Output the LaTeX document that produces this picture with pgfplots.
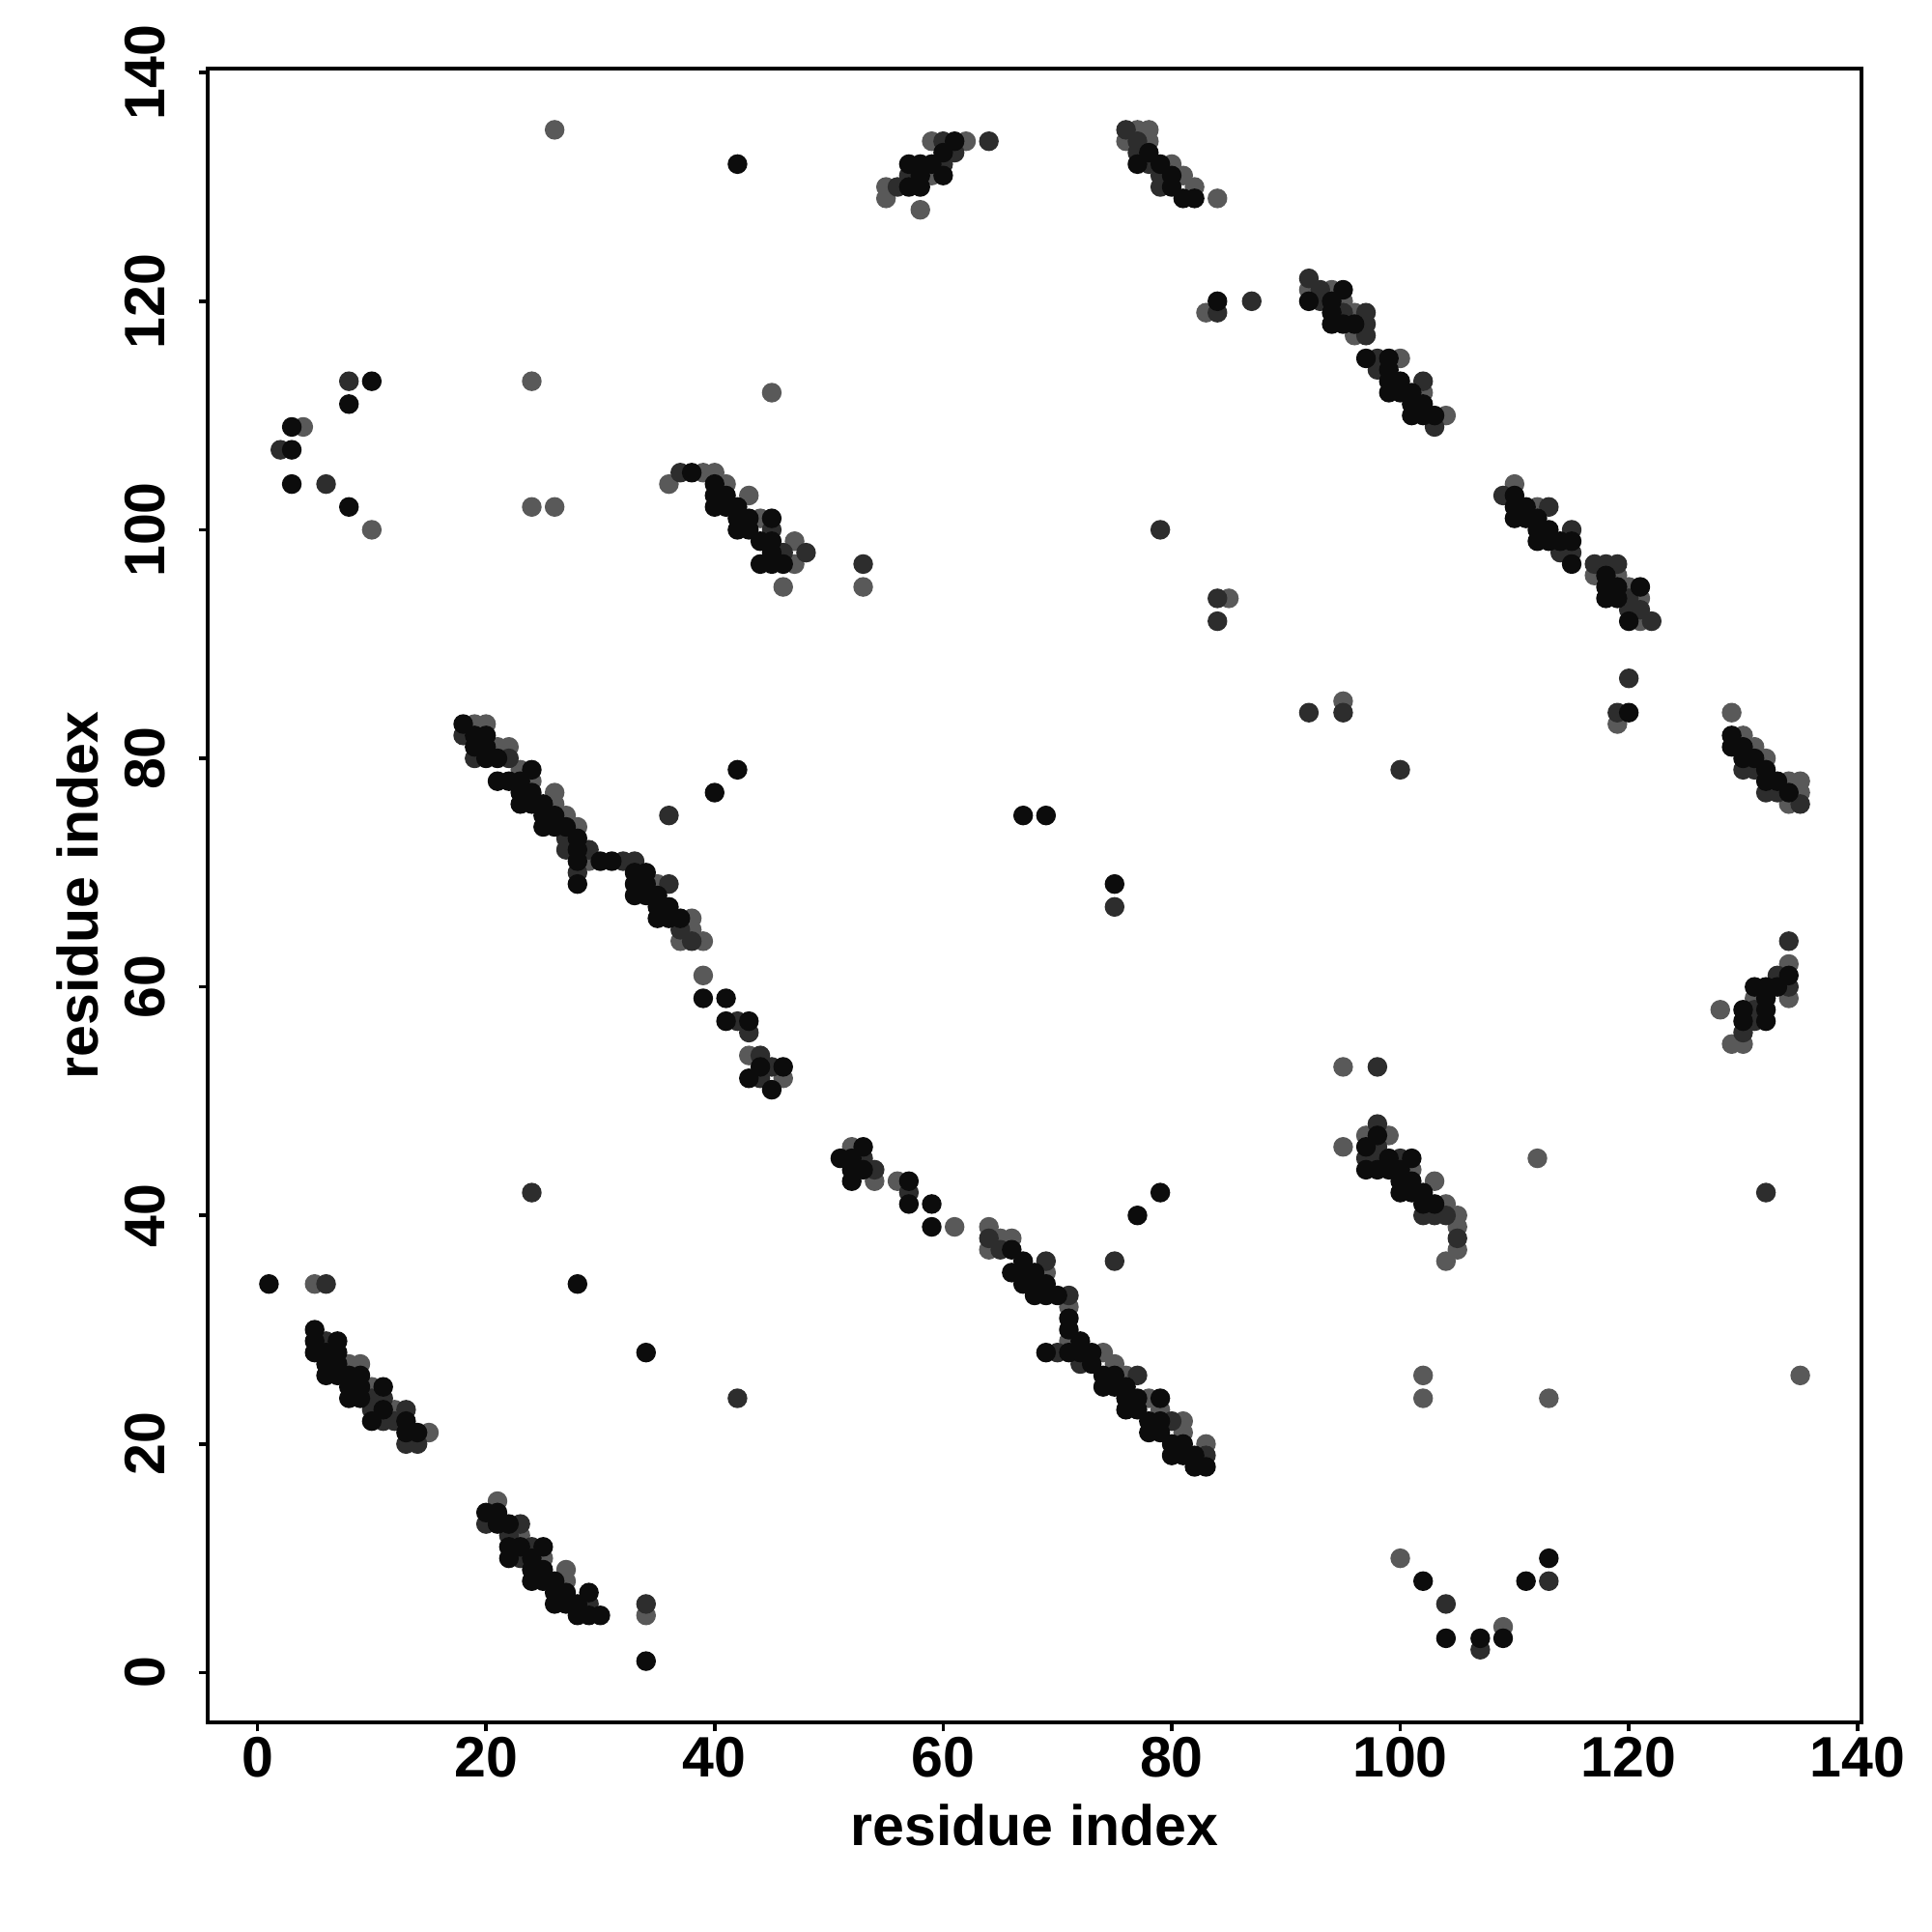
\documentclass[border=0pt]{standalone}
\usepackage{fontspec}
\setmainfont{Liberation Sans}
\usepackage{pgfplots}
\pgfplotsset{compat=1.18}
\definecolor{ck}{HTML}{0C0C0C}
\definecolor{cd}{HTML}{2D2D2D}
\definecolor{cg}{HTML}{595959}
\begin{document}
\begin{tikzpicture}
\path (0,0) rectangle (20cm,20cm);
\begin{axis}[
  at={(2.15cm,2.17cm)}, anchor=south west,
  scale only axis, width=17.12cm, height=17.12cm,
  xmin=-4.36, xmax=140.36, ymin=-4.36, ymax=140.36,
  xtick={0,20,...,140}, ytick={0,20,...,140},
  tick align=outside, tick pos=left, major tick length=0.095cm,
  axis line style={line width=1pt},
  every tick/.style={line width=1pt, black},
  /pgf/number format/assume math mode=true,
  tick label style={font=\fontsize{16.8}{20}\selectfont\bfseries},
  label style={font=\fontsize{16.8}{20}\selectfont\bfseries},
  xticklabel style={anchor=north, inner sep=0pt, yshift=-0.05cm},
  yticklabel style={xshift=-0.35cm, rotate=90, anchor=base, inner sep=0pt},
  xlabel={residue index}, ylabel={residue index},
  xlabel style={at={(axis description cs:0.5,0)}, anchor=base, inner sep=0pt, yshift=-1.27cm},
  ylabel style={at={(axis description cs:0,0.5)}, anchor=base, inner sep=0pt, yshift=1.14cm},
  clip=false,
]
% gray
\addplot[only marks, mark=*, mark size=2.7pt, color=cg, mark options={draw=none}] coordinates {
(4,109)(10,100)(5,34)(8,27)(9,27)(10,25)(12,23)(15,21)
(21,15)(23,12)(25,10)(27,9)(27,8)(34,5)
(19,83)(20,83)(21,81)(22,81)(23,79)(24,78)(26,77)(26,76)(27,75)(28,74)(29,71)(35,69)(38,66)(38,65)(37,64)(39,64)(39,61)(43,54)(46,52)
(52,46)(54,43)(56,43)(61,39)(64,39)(65,38)(66,38)(64,37)(69,35)(71,32)(71,29)(74,28)(75,27)(76,26)(78,24)(79,23)(81,22)(81,21)(83,20)
(59,134)(62,134)(59,131)(55,130)(55,129)(58,128)(45,112)(26,135)
(77,135)(78,135)(76,134)(78,134)(80,132)(81,131)(82,130)(84,129)(83,119)
(92,121)(94,121)(95,120)(96,119)(96,117)(100,115)(102,112)(104,110)
(110,104)(112,102)(117,96)(119,96)(120,95)(121,94)(121,92)
(119,83)(129,84)(130,82)(131,81)(132,80)(134,78)(135,78)(135,77)(134,76)
(134,62)(131,59)(134,59)(128,58)(129,55)(130,55)
(95,46)(97,47)(99,47)(101,44)(103,43)(104,41)(105,40)(105,39)(105,37)(104,36)(112,45)(102,26)
(100,10)(109,4)
(36,104)(39,105)(40,105)(41,104)(43,103)(44,101)(47,99)(47,97)(46,95)
(24,113)(24,102)(26,102)(53,95)(85,94)(95,85)(95,53)(102,24)(113,24)(135,26)
};
% dark
\addplot[only marks, mark=*, mark size=2.7pt, color=cd, mark options={draw=none}] coordinates {
(8,113)(2,107)(6,104)(6,34)
(6,29)(10,24)(11,24)(10,23)(13,23)(11,22)(12,22)(13,20)(14,20)
(20,13)(23,13)(22,12)(24,11)(23,10)(29,6)(34,6)
(18,82)(19,80)(22,80)(27,73)(27,72)(29,72)(32,71)(33,71)(28,70)(36,69)(37,65)(38,64)(42,57)(43,56)(44,54)(45,53)(44,52)(36,75)
(53,45)(54,44)(57,42)(64,38)(65,37)(69,36)(71,33)(70,28)(72,27)(77,26)(80,22)(83,19)(75,36)(42,24)
(60,134)(64,134)(61,133)(60,132)(57,131)(56,130)
(76,135)(77,134)(77,133)(78,132)(79,131)(79,130)(87,120)(84,119)
(92,122)(93,121)(93,120)(95,119)(97,119)(97,118)(97,117)(98,115)(98,114)(102,113)(103,109)
(109,103)(113,102)(115,100)(114,98)(115,98)(117,97)(118,97)(119,97)(120,94)(120,93)(121,93)(122,92)
(120,87)(119,84)(130,79)(131,79)(132,77)(133,77)(135,76)
(134,64)(133,61)(134,60)(131,58)(131,57)(130,56)
(98,48)(98,46)(97,45)(98,45)(100,45)(102,40)(103,40)(104,40)(105,38)
(104,6)(107,2)(113,8)
(37,105)(45,100)(46,98)(48,98)
(53,97)(75,67)(79,100)(84,94)(84,92)(92,84)(95,84)(100,79)(98,53)(132,42)(24,42)
};
% black
\addplot[only marks, mark=*, mark size=2.7pt, color=ck, mark options={draw=none}] coordinates {
(10,113)(8,111)(3,109)(3,107)(3,104)(8,102)
(1,34)(28,34)(34,28)
(5,30)(5,29)(7,29)(5,28)(6,28)(7,28)(6,27)(7,27)(6,26)(7,26)(8,26)(9,26)(8,25)(9,25)(11,25)(8,24)(9,24)(11,23)(10,22)(13,22)(13,21)(14,21)
(20,14)(21,14)(21,13)(22,13)(22,11)(23,11)(25,11)(22,10)(24,10)(24,9)(25,9)(24,8)(25,8)(26,8)(26,7)(27,7)(26,6)(27,6)(28,6)(29,7)(28,5)(29,5)(30,5)(34,1)
(18,83)(19,82)(20,82)(19,81)(20,81)(20,80)(21,80)(24,79)(21,78)(22,78)(23,78)(23,77)(24,77)(23,76)(24,76)(25,76)(25,75)(26,75)(25,74)(26,74)(27,74)(28,73)(28,72)(28,71)(30,71)(31,71)(28,69)(33,70)(34,70)(33,69)(34,69)(33,68)(34,68)(35,68)(35,67)(36,67)(35,66)(36,66)(37,66)(39,59)(41,59)(41,57)(43,57)(44,53)(46,53)(43,52)(45,51)
(42,79)(40,77)
(53,46)(51,45)(52,45)(52,44)(53,44)(52,43)(57,43)(57,41)(59,41)(59,39)(66,37)(67,36)(66,35)(67,35)(68,35)(67,34)(68,34)(69,34)(68,33)(69,33)(70,33)(71,31)(71,30)(72,29)(69,28)(71,28)(72,28)(73,28)(73,27)(74,26)(75,26)(74,25)(75,25)(76,25)(76,24)(77,24)(79,24)(76,23)(77,23)(78,22)(79,22)(78,21)(79,21)(80,20)(81,20)(80,19)(81,19)(82,19)(82,18)(83,18)
(77,40)(79,42)
(61,134)(60,133)(57,132)(58,132)(59,132)(58,131)(60,131)(57,130)(58,130)(42,132)
(78,133)(77,132)(79,132)(80,131)(80,130)(81,129)(82,129)(84,120)
(95,121)(92,120)(94,120)(94,119)(94,118)(95,118)(96,118)(97,115)(99,115)(99,114)(99,113)(100,113)(99,112)(100,112)(101,112)(101,111)(102,111)(101,110)(102,110)(103,110)
(110,103)(110,102)(111,102)(110,101)(111,101)(112,101)(112,100)(113,100)(112,99)(113,99)(114,99)(115,99)(115,97)(118,96)(118,95)(119,95)(121,95)(118,94)(119,94)(120,92)
(120,84)(129,82)(129,81)(130,81)(130,80)(131,80)(132,79)(132,78)(133,78)(134,77)
(134,61)(131,60)(132,60)(133,60)(132,59)(130,58)(132,58)(130,57)(132,57)
(98,47)(97,46)(99,45)(101,45)(97,44)(98,44)(99,44)(100,44)(100,43)(101,43)(100,42)(101,42)(102,42)(102,41)(103,41)
(102,8)(104,3)(107,3)(109,3)(111,8)(113,10)
(38,105)(40,104)(40,103)(41,103)(40,102)(41,102)(42,102)(42,101)(43,101)(45,101)(42,100)(43,100)(44,99)(45,99)(45,98)(44,97)(45,97)(46,97)
(67,75)(69,75)(75,69)
};
\end{axis}
\end{tikzpicture}
\end{document}
